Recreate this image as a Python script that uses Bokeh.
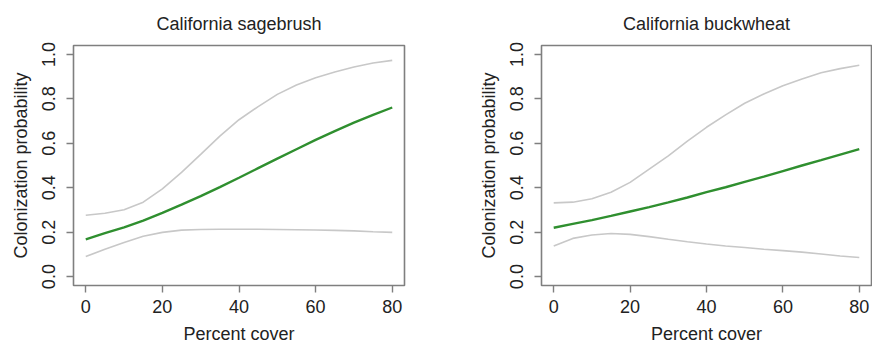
from bokeh.plotting import figure
from bokeh.layouts import row
from bokeh.models import Range1d, FixedTicker, PrintfTickFormatter
from bokeh.embed import file_html
from bokeh.resources import INLINE

# ---- data ----
cover = [0, 5, 10, 15, 20, 25, 30, 35, 40, 45, 50, 55, 60, 65, 70, 75, 80]

sage_fit = [0.168, 0.196, 0.222, 0.252, 0.287, 0.324, 0.362, 0.403, 0.445,
            0.488, 0.531, 0.573, 0.615, 0.655, 0.693, 0.728, 0.761]
sage_upper = [0.276, 0.285, 0.301, 0.335, 0.395, 0.469, 0.550, 0.632, 0.706,
              0.765, 0.820, 0.862, 0.895, 0.921, 0.943, 0.961, 0.973]
sage_lower = [0.090, 0.123, 0.153, 0.182, 0.199, 0.209, 0.212, 0.213, 0.213,
              0.213, 0.212, 0.211, 0.210, 0.208, 0.206, 0.202, 0.199]

buck_fit = [0.220, 0.237, 0.254, 0.273, 0.293, 0.313, 0.334, 0.356, 0.380,
            0.402, 0.426, 0.450, 0.475, 0.500, 0.524, 0.549, 0.574]
buck_upper = [0.332, 0.335, 0.350, 0.380, 0.424, 0.484, 0.543, 0.610, 0.672,
              0.728, 0.780, 0.822, 0.859, 0.889, 0.917, 0.936, 0.951]
buck_lower = [0.138, 0.172, 0.187, 0.194, 0.190, 0.180, 0.168, 0.157, 0.147,
              0.138, 0.131, 0.123, 0.117, 0.110, 0.102, 0.093, 0.086]

titles = ["California sagebrush", "California buckwheat"]
x_label = "Percent cover"
y_label = "Colonization probability"
x_ticks = [0, 20, 40, 60, 80]
y_ticks = [0.0, 0.2, 0.4, 0.6, 0.8, 1.0]

FONT = "Liberation Sans"
TXT = "#222222"
BOX = "#7f7f7f"
GREEN = "#2f8f2f"
GREY = "#c8c8c8"


def make_panel(title, fit, upper, lower, width, mb_left, mb_right):
    p = figure(width=width, height=347, output_backend="svg", toolbar_location=None,
               x_range=Range1d(-3.2, 83.2), y_range=Range1d(-0.04, 1.04),
               min_border_left=mb_left, min_border_right=mb_right,
               min_border_top=43, min_border_bottom=62, title=title)
    p.background_fill_color = "white"
    p.border_fill_color = "white"
    p.grid.visible = False
    p.outline_line_color = BOX
    p.outline_line_width = 1.6

    p.title.text_font = FONT
    p.title.text_font_size = "18px"
    p.title.text_font_style = "normal"
    p.title.text_color = TXT
    p.title.align = "center"
    p.title.standoff = 23

    p.xaxis.ticker = FixedTicker(ticks=x_ticks)
    p.yaxis.ticker = FixedTicker(ticks=y_ticks)
    p.yaxis.formatter = PrintfTickFormatter(format="%.1f")
    p.xaxis.axis_label = x_label
    p.yaxis.axis_label = y_label
    for ax in (p.xaxis, p.yaxis):
        ax.axis_line_color = None
        ax.major_tick_line_color = BOX
        ax.major_tick_line_width = 1.4
        ax.major_tick_out = 7
        ax.major_tick_in = 0
        ax.minor_tick_line_color = None
        ax.major_label_text_font = FONT
        ax.major_label_text_font_size = "18px"
        ax.major_label_text_color = TXT
        ax.axis_label_text_font = FONT
        ax.axis_label_text_font_size = "18px"
        ax.axis_label_text_font_style = "normal"
        ax.axis_label_text_color = TXT
    p.xaxis.major_label_standoff = 7
    p.xaxis.axis_label_standoff = 8
    p.yaxis.major_label_orientation = "vertical"
    p.yaxis.major_label_standoff = 11
    p.yaxis.axis_label_standoff = 9

    p.line(cover, upper, line_color=GREY, line_width=1.6)
    p.line(cover, lower, line_color=GREY, line_width=1.6)
    p.line(cover, fit, line_color=GREEN, line_width=2.4)
    return p


p1 = make_panel(titles[0], sage_fit, sage_upper, sage_lower, 470, 73, 66)
p2 = make_panel(titles[1], buck_fit, buck_upper, buck_lower, 402, 71, 1)

layout = row(p1, p2)
open("out.html", "w").write(file_html(layout, INLINE))
